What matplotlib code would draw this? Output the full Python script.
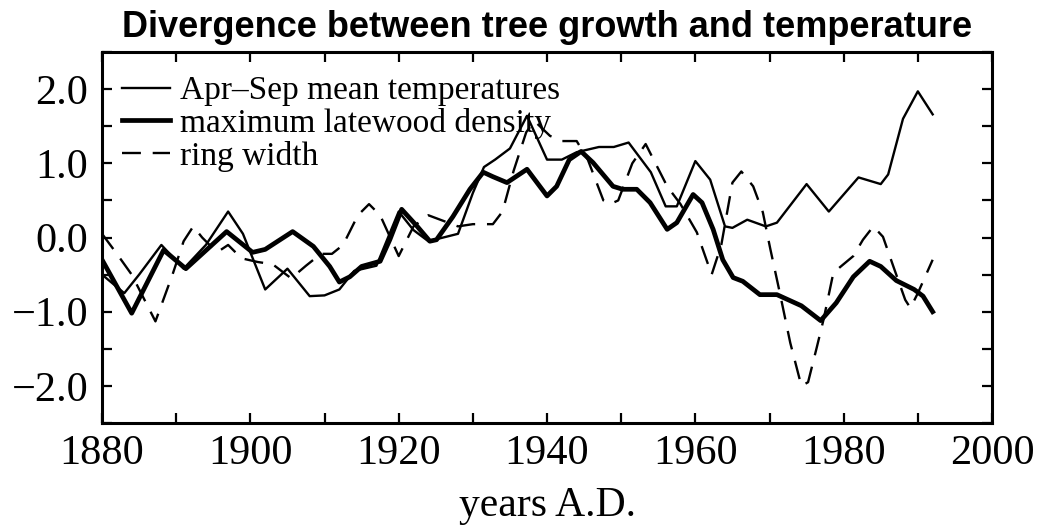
import matplotlib.pyplot as plt
from matplotlib.ticker import MultipleLocator, FuncFormatter

# Apr-Sep mean temperatures (thin line)
temp_years = [1880, 1883, 1885, 1888, 1891, 1894, 1897, 1899, 1902, 1905, 1908,
              1910, 1912, 1914, 1917, 1920, 1922, 1924, 1926, 1928, 1930, 1931.5,
              1933, 1935, 1937.3, 1940, 1942, 1944, 1947, 1949, 1951, 1954, 1956,
              1957.5, 1960, 1962, 1964, 1965, 1967, 1969.5, 1971, 1975, 1978, 1982,
              1985, 1986, 1988, 1990, 1992]
temp_vals = [-0.5, -0.75, -0.5, -0.1, -0.42, -0.1, 0.35, 0.05, -0.7, -0.42, -0.79,
             -0.78, -0.7, -0.45, -0.38, 0.35, 0.1, -0.05, 0.0, 0.05, 0.6, 0.95,
             1.05, 1.2, 1.64, 1.05, 1.05, 1.15, 1.22, 1.22, 1.28, 0.88, 0.42,
             0.42, 1.03, 0.78, 0.15, 0.13, 0.24, 0.15, 0.2, 0.72, 0.35, 0.81,
             0.72, 0.85, 1.6, 1.97, 1.66]

# maximum latewood density (thick line)
mxd_years = [1880, 1884, 1888.3, 1891.3, 1896.8, 1900.3, 1902, 1905.7, 1908.5,
             1910.7, 1912, 1913.4, 1915, 1917.5, 1918.8, 1920.4, 1922.5, 1924.2,
             1925.1, 1927.3, 1929.6, 1931.4, 1932.7, 1934.6, 1937.3, 1940, 1941.3,
             1943, 1944.6, 1946.2, 1948.9, 1950.2, 1952.1, 1953.9, 1956.2, 1957.5,
             1959.7, 1960.9, 1962.4, 1963.7, 1965.1, 1966.4, 1968.7, 1971, 1974.3,
             1976.9, 1979, 1981.3, 1983.5, 1985, 1987.1, 1989.5, 1990.7, 1992]
mxd_vals = [-0.3, -1.02, -0.17, -0.42, 0.08, -0.2, -0.16, 0.08, -0.12,
            -0.39, -0.6, -0.53, -0.39, -0.32, -0.03, 0.38, 0.15, -0.05,
            -0.03, 0.28, 0.65, 0.88, 0.82, 0.74, 0.92, 0.56, 0.69,
            1.05, 1.16, 1.01, 0.69, 0.65, 0.65, 0.47, 0.11, 0.2,
            0.58, 0.47, 0.11, -0.3, -0.54, -0.59, -0.77, -0.77, -0.92,
            -1.12, -0.88, -0.53, -0.32, -0.39, -0.58, -0.7, -0.79, -1.0]

# ring width (dashed line)
rw_years = [1880, 1882, 1884, 1887.2, 1889.5, 1891, 1892.3, 1893.5, 1895.5, 1897,
            1898.8, 1901, 1903, 1905.5, 1907.5, 1909.5, 1911, 1912.5, 1914.5, 1916,
            1917.5, 1920, 1922, 1924, 1925.6, 1928, 1930, 1932.7, 1934, 1935.5,
            1937.2, 1938.3, 1940.4, 1942, 1944, 1945.5, 1947.6, 1948.5, 1949.6,
            1951.5, 1953.3, 1956.2, 1958, 1960.2, 1962.2, 1963.5, 1965, 1966.2,
            1967.8, 1969.1, 1970.1, 1971.4, 1972.8, 1974.3, 1975.2, 1976.4, 1977.3,
            1978.6, 1979.5, 1981.3, 1982.6, 1984, 1985.3, 1986.7, 1988.3, 1989,
            1990, 1992]
rw_vals = [0.05, -0.22, -0.5, -1.13, -0.5, -0.05, 0.15, 0.0, -0.2, -0.1,
           -0.28, -0.33, -0.36, -0.55, -0.38, -0.22, -0.22, -0.1, 0.3, 0.45,
           0.3, -0.25, 0.15, 0.3, 0.24, 0.15, 0.18, 0.18, 0.35, 0.9,
           1.42, 1.57, 1.37, 1.3, 1.3, 1.05, 0.5, 0.45, 0.5,
           1.0, 1.26, 0.69, 0.45, 0.07, -0.5, -0.1, 0.74, 0.89,
           0.69, 0.34, -0.15, -0.75, -1.42, -2.0, -1.95, -1.47, -1.1,
           -0.48, -0.4, -0.25, -0.03, 0.15, 0.01, -0.39, -0.84, -0.95,
           -0.75, -0.3]

serif = 'Liberation Serif'

fig = plt.figure(figsize=(10.37, 5.27), dpi=100)
ax = fig.add_axes([0.0984, 0.1973, 0.8582, 0.704])

ax.plot(temp_years, temp_vals, color='black', lw=1.7, solid_joinstyle='round',
        label='Apr\u2013Sep mean temperatures')
ax.plot(mxd_years, mxd_vals, color='black', lw=3.4, solid_joinstyle='round',
        label='maximum latewood density')
ax.plot(rw_years, rw_vals, color='black', lw=1.7, dashes=(8, 5),
        dash_joinstyle='round', label='ring width')

ax.set_xlim(1880, 2000)
ax.set_ylim(-2.5, 2.5)
ax.xaxis.set_major_locator(MultipleLocator(20))
ax.xaxis.set_minor_locator(MultipleLocator(10))
ax.yaxis.set_major_locator(MultipleLocator(1.0))
ax.yaxis.set_minor_locator(MultipleLocator(0.5))
ax.yaxis.set_major_formatter(FuncFormatter(lambda v, p: f'{v:.1f}'.replace('-', '\u2212')))

ax.tick_params(which='both', direction='in', top=True, right=True,
               length=7, width=1.6)
ax.tick_params(axis='x', pad=8)
ax.tick_params(axis='y', pad=10)
for lab in ax.get_xticklabels() + ax.get_yticklabels():
    lab.set_fontfamily(serif)
    lab.set_fontsize(30.5)
for sp in ax.spines.values():
    sp.set_linewidth(2.2)

ax.set_xlabel('years A.D.', fontfamily=serif, fontsize=30, labelpad=10)
ax.set_title('Divergence between tree growth and temperature',
             fontfamily='Liberation Sans', fontweight='bold', fontsize=26, pad=11)

leg = ax.legend(loc='upper left', frameon=False, prop={'family': serif, 'size': 24},
                handlelength=1.45, handletextpad=0.3, labelspacing=0.05,
                borderaxespad=0.2, bbox_to_anchor=(0.0, 0.99))

fig.savefig('out.png', dpi=100)
